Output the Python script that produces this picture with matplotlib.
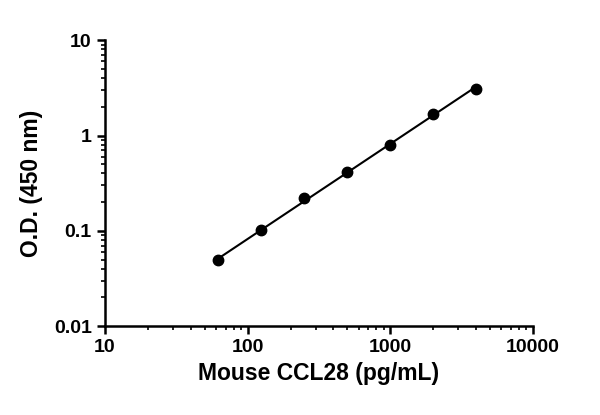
import matplotlib
matplotlib.use("Agg")
import matplotlib.pyplot as plt
import numpy as np

conc = [62.5, 125, 250, 500, 1000, 2000, 4000]
od = [0.049, 0.102, 0.222, 0.41, 0.80, 1.70, 3.10]
xticks = [10, 100, 1000, 10000]
yticks = [0.01, 0.1, 1, 10]
xlabels = ["10", "100", "1000", "10000"]
ylabels = ["0.01", "0.1", "1", "10"]

plt.rcParams["font.family"] = "Liberation Sans"
plt.rcParams["font.weight"] = "bold"
fig = plt.figure(figsize=(6, 4.15), dpi=100)
ax = fig.add_axes([0.175, 0.214, 0.713, 0.689])
lx, ly = np.log10(conc), np.log10(od)
p = np.polyfit(lx, ly, 1)
xf = np.linspace(lx[0], lx[-1], 50)
ax.plot(10**xf, 10**np.polyval(p, xf), color="black", lw=1.5)
ax.plot(conc, od, "o", color="black", ms=7.5)
ax.set_xscale("log"); ax.set_yscale("log")
ax.set_xlim(10, 10000); ax.set_ylim(0.01, 10)
ax.set_xticks(xticks); ax.set_xticklabels(xlabels)
ax.set_yticks(yticks); ax.set_yticklabels(ylabels)
for s in ["top", "right"]:
    ax.spines[s].set_visible(False)
for s in ["left", "bottom"]:
    ax.spines[s].set_linewidth(1.8)
ax.tick_params(which="major", width=1.8, length=6, labelsize=14)
ax.tick_params(which="minor", width=1.2, length=3)
for t in ax.get_xticklabels() + ax.get_yticklabels():
    t.set_fontweight("bold")
ax.set_xlabel("Mouse CCL28 (pg/mL)", fontsize=16.5, fontweight="bold", labelpad=4)
ax.set_ylabel("O.D. (450 nm)", fontsize=16.5, fontweight="bold", labelpad=8)
fig.savefig("out.png", dpi=100)
